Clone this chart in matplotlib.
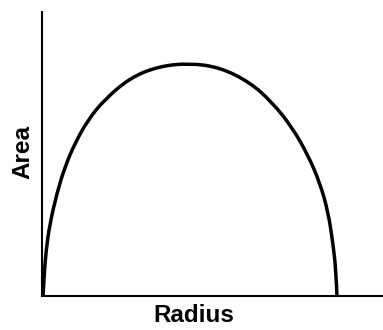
import matplotlib.pyplot as plt
from matplotlib.path import Path
from matplotlib.patches import PathPatch

# values (arbitrary units)
radius = [0.03, 0.06, 0.12, 0.23, 0.44, 0.67, 0.97, 1.35, 1.82, 2.58, 3.40,
          4.31, 5.22, 6.10, 6.74, 7.33, 7.80, 8.15, 8.39, 8.53, 8.62, 8.65]
area = [0.00, 0.67, 1.62, 2.54, 3.63, 4.54, 5.39, 6.20, 6.90, 7.68, 8.08,
        8.20, 8.05, 7.52, 6.83, 5.95, 4.96, 3.98, 2.96, 1.87, 0.92, 0.00]

plt.rcParams['font.family'] = ['Liberation Sans', 'DejaVu Sans']

fig = plt.figure(figsize=(3.83, 3.30), dpi=100)
ax = fig.add_axes([42 / 383, 34 / 330, 341 / 383, 284 / 330])

# smooth rendering: points used as quadratic b-spline control points
pts = list(zip(radius, area))
verts = [pts[0]]
codes = [Path.MOVETO]
for i in range(1, len(pts) - 2):
    mid = ((pts[i][0] + pts[i + 1][0]) / 2, (pts[i][1] + pts[i + 1][1]) / 2)
    verts += [pts[i], mid]
    codes += [Path.CURVE3, Path.CURVE3]
verts += [pts[-2], pts[-1]]
codes += [Path.CURVE3, Path.CURVE3]

curve = PathPatch(Path(verts, codes), facecolor='none', edgecolor='black',
                  lw=2.5, capstyle='butt', clip_on=False)
ax.add_patch(curve)

ax.set_xlim(0, 10)
ax.set_ylim(0, 10)
ax.spines['top'].set_visible(False)
ax.spines['right'].set_visible(False)
ax.spines['left'].set_linewidth(1.5)
ax.spines['bottom'].set_linewidth(1.5)
ax.set_xticks([])
ax.set_yticks([])

fig.text(194 / 383, 1 - 315 / 330, 'Radius', ha='center', va='center',
         fontsize=17.5, fontweight='bold')
fig.text(23 / 383, 1 - 152 / 330, 'Area', ha='center', va='center',
         rotation=90, fontsize=17.5, fontweight='bold')

fig.savefig('out.png', dpi=100)
